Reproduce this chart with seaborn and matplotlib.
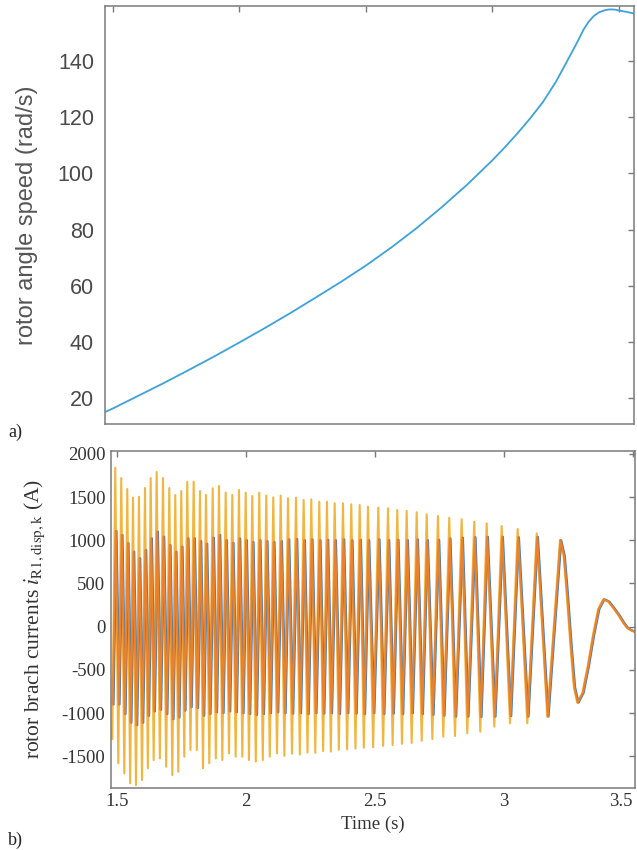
import matplotlib
matplotlib.use("Agg")
import matplotlib.pyplot as plt
import seaborn as sns
import pandas as pd

# ---------------- data: panel a) rotor angle speed ----------------
speed_t = [1.468, 1.50, 1.60, 1.70, 1.80, 1.90, 2.00, 2.10, 2.20, 2.30, 2.40, 2.50,
           2.60, 2.70, 2.80, 2.90, 3.00, 3.05, 3.10, 3.15, 3.20, 3.25, 3.30, 3.34,
           3.36, 3.38, 3.40, 3.42, 3.44, 3.455, 3.47, 3.485, 3.50, 3.53, 3.56]
speed_v = [15.0, 16.3, 20.8, 25.3, 30.0, 34.8, 39.8, 44.9, 50.2, 55.7, 61.3, 67.2,
           73.6, 80.5, 88.0, 96.0, 104.7, 109.4, 114.4, 119.7, 125.5, 132.5, 140.8, 147.6,
           151.2, 154.0, 156.0, 157.3, 158.0, 158.3, 158.4, 158.3, 158.0, 157.5, 156.9]

# ---------------- data: panel b) rotor branch currents ----------------
peak_t = [1.4946, 1.5178, 1.5411, 1.5632, 1.5864, 1.6097, 1.6318, 1.6550, 1.6795, 1.7039,
          1.7271, 1.7504, 1.7736, 1.7984, 1.8229, 1.8461, 1.8721, 1.8965, 1.9225, 1.9481,
          1.9740, 2.0000, 2.0256, 2.0527, 2.0798, 2.1070, 2.1357, 2.1640, 2.1950, 2.2248,
          2.2543, 2.2853, 2.3151, 2.3450, 2.3771, 2.4093, 2.4419, 2.4740, 2.5140, 2.5516,
          2.5876, 2.6240, 2.6628, 2.7016, 2.7453, 2.7891, 2.8372, 2.8860, 2.9341, 2.9922,
          3.0543, 3.1279, 3.2182]
trough_t = [1.5062, 1.5295, 1.5522, 1.5748, 1.5981, 1.6208, 1.6434, 1.6673, 1.6917, 1.7155,
            1.7388, 1.7620, 1.7860, 1.8107, 1.8345, 1.8591, 1.8843, 1.9095, 1.9353, 1.9611,
            1.9870, 2.0128, 2.0392, 2.0663, 2.0934, 2.1214, 2.1499, 2.1795, 2.2099, 2.2396,
            2.2698, 2.3002, 2.3301, 2.3611, 2.3932, 2.4256, 2.4580, 2.4940, 2.5328, 2.5696,
            2.6058, 2.6434, 2.6822, 2.7235, 2.7659, 2.8112, 2.8589, 2.9093, 2.9636, 3.0244,
            3.0915, 3.1690]
yellow_peak = [1840, 1720, 1593, 1493, 1504, 1605, 1720, 1790, 1720, 1605, 1524, 1570, 1678, 1678,
               1570, 1524, 1601, 1628, 1551, 1524, 1582, 1551, 1512, 1551, 1516, 1497, 1516,
               1486, 1493, 1466, 1474, 1446, 1446, 1428, 1428, 1416, 1408, 1388,
               1377, 1370, 1350, 1339, 1324, 1300, 1281,
               1260, 1243, 1215, 1196, 1165, 1130, 1080, 1003]
yellow_trough = [-1581, -1697, -1812, -1832, -1774, -1639, -1543, -1524, -1620, -1716, -1678,
                 -1504, -1427, -1427, -1639, -1581, -1524, -1543, -1466, -1504, -1504, -1543,
                 -1562, -1543, -1504, -1466,
                 -1495, -1470, -1480, -1455, -1460, -1440, -1445, -1425, -1420, -1410, -1400,
                 -1395, -1380, -1370, -1355, -1345, -1320, -1300,
                 -1273, -1265, -1234, -1215, -1157, -1118, -1118, -1041]
bo_peak = [1107, 1061, 965, 868, 791, 887, 1022, 1099, 1041, 945, 868, 926, 1022, 1022,
           990, 960, 1030, 1060, 1000, 970, 1020, 1000, 980, 1000, 990, 980, 990,
           1010, 1015, 1000, 1010, 1000, 1005, 1000, 1010, 1000, 1005, 1000,
           1010, 1000, 1005, 1000, 1010, 1000, 1005,
           1020, 1030, 1035, 1040, 1040, 1035, 1040, 1000]
bo_trough = [-900, -1010, -1110, -1140, -1110, -1030, -980, -960, -1010, -1070, -1050, -970,
             -930, -940, -1030, -1010, -990, -1000, -980, -990, -1000, -1010, -1020, -1010,
             -1000, -990,
             -1000, -1005, -1000, -1010, -1000, -1005, -1000, -1010, -1000, -1005, -1010,
             -1000, -1010, -1005, -1010, -1000, -1010, -1020,
             -1030, -1040, -1040, -1045, -1040, -1035, -1040, -1040]
lead_t = 1.4830
lead_yellow = -1300
lead_bo = -900
tail_t = [3.232, 3.245, 3.259, 3.272, 3.2853, 3.305, 3.325, 3.346, 3.366, 3.386,
          3.405, 3.425, 3.445, 3.464, 3.478, 3.490, 3.500, 3.512]
tail_v = [820, 350, -230, -700, -879, -765, -466, -96, 203, 317,
          290, 213, 130, 39, -15, -38, -52, -60]
series_names = ["yellow", "blue", "orange"]
series_lag = [0.0, 0.005, 0.002]
series_colors = ["#F2B53F", "#3F7DB5", "#EC812C"]


def build(peaks, troughs, lead_v, lag):
    t, v = [lead_t], [lead_v]
    for i, pt in enumerate(peak_t):
        t.append(pt); v.append(peaks[i])
        if i < len(trough_t):
            t.append(trough_t[i]); v.append(troughs[i])
    t += tail_t
    v += tail_v
    return [x + lag for x in t], v


frames = []
for name, lag in zip(series_names, series_lag):
    if name == "yellow":
        tt, vv = build(yellow_peak, yellow_trough, lead_yellow, lag)
    else:
        tt, vv = build(bo_peak, bo_trough, lead_bo, lag)
    frames.append(pd.DataFrame({"t": tt, "i": vv, "k": name}))
cur = pd.concat(frames, ignore_index=True)
spd = pd.DataFrame({"t": speed_t, "w": speed_v})

# ---------------- figure ----------------
sns.set_style("white")
plt.rcParams["mathtext.fontset"] = "stix"
W, H = 637, 850
fig = plt.figure(figsize=(W / 100, H / 100), dpi=100)

spine_col = "#7a7a7a"
sans = ["Liberation Sans", "DejaVu Sans"]
serif = ["Liberation Serif", "DejaVu Serif"]

# panel a
ax1 = fig.add_axes([105 / W, 1 - 424 / H, 529 / W, 418 / H])
sns.lineplot(data=spd, x="t", y="w", ax=ax1, color="#3DA2DC", linewidth=1.3,
             estimator=None, sort=False)
ax1.set_xlim(1.4684, 3.5593)
ax1.set_ylim(10.75, 159.6)
ax1.set_xticks([1.5, 2.0, 2.5, 3.0, 3.5])
ax1.set_xticklabels([])
ax1.set_yticks([20, 40, 60, 80, 100, 120, 140])
ax1.set_xlabel("")
ax1.set_ylabel("rotor angle speed (rad/s)", fontsize=17, family=sans,
               color="#555555")
ax1.yaxis.set_label_coords(-67 / 529, 0.5)
for lab in ax1.get_yticklabels():
    lab.set_family(sans)
ax1.tick_params(axis="both", direction="in", length=4.5, width=1, color=spine_col,
                top=True, right=True, labelsize=15.5, labelcolor="#4a4a4a", pad=8)

# panel b
ax2 = fig.add_axes([111 / W, 1 - 787.7 / H, 524 / W, 336.7 / H])
for name, col in zip(series_names, series_colors):
    sns.lineplot(data=cur[cur["k"] == name], x="t", y="i", ax=ax2, color=col,
                 linewidth=1.5, estimator=None, sort=False)
ax2.set_xlim(1.478, 3.509)
ax2.set_ylim(-1863, 2033)
ax2.set_xticks([1.5, 2.0, 2.5, 3.0, 3.5])
ax2.set_xticklabels(["1.5", "2", "2.5", "3", "3.5"])
ax2.set_yticks([-1500, -1000, -500, 0, 500, 1000, 1500, 2000])
ax2.set_yticklabels(["-1500", "-1000", "-500", "0", "500", "1000", "1500", "2000"])
for lab in ax2.get_xticklabels() + ax2.get_yticklabels():
    lab.set_family(serif)
ax2.get_xticklabels()[-1].set_horizontalalignment("right")
ax2.tick_params(axis="both", direction="in", length=4.5, width=1, color=spine_col,
                top=True, right=True, labelsize=13.5, labelcolor="#333333", pad=4)
ax2.set_xlabel("Time (s)", fontsize=13.5, family=serif, color="#333333", labelpad=4)
ax2.set_ylabel(r"rotor brach currents $i_{\mathrm{R1,disp,k}}$ (A)", fontsize=15.5,
               family=serif, color="#333333")
ax2.yaxis.set_label_coords(-64 / 524, 0.5)

for ax in (ax1, ax2):
    for sp in ax.spines.values():
        sp.set_color(spine_col)
        sp.set_linewidth(1.1)
        sp.set_visible(True)

fig.text(8 / W, 1 - 432 / H, "a)", fontsize=13, family=serif, color="#222222", va="center")
fig.text(8 / W, 1 - 840 / H, "b)", fontsize=13, family=serif, color="#222222", va="center")

fig.savefig("out.png", dpi=100)
